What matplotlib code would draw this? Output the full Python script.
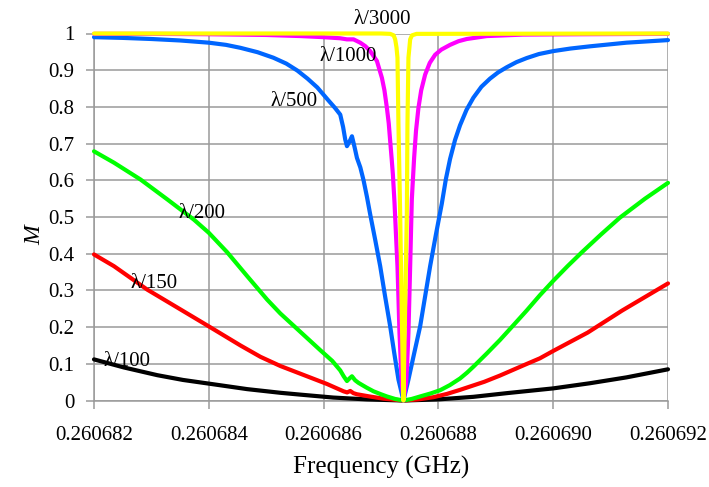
import numpy as np
import matplotlib
matplotlib.use("Agg")
import matplotlib.pyplot as plt

# ── data: frequency offsets from 0.260682 GHz, in kHz (1e-6 GHz) ────────────
F_START = 0.260682

U_100 = [0, 0.522, 1.103, 1.55, 2.0, 2.668, 3.247, 3.595, 4.169, 4.755, 5.391,
         6.0, 6.609, 7.19, 8.0, 8.638, 9.277, 10.0]
M_100 = [0.112, 0.090, 0.069, 0.056, 0.046, 0.031, 0.021, 0.016, 0.008, 0.003, 0.0,
         0.003, 0.010, 0.020, 0.033, 0.047, 0.063, 0.085]

U_150 = [0, 0.348, 0.929, 1.508, 2.0, 2.551, 2.9, 3.247, 3.595, 4.059, 4.348,
         4.41, 4.464, 4.52, 4.581, 4.8, 5.043, 5.391, 5.65, 5.913, 6.15, 6.377, 6.8,
         7.073, 7.5, 7.769, 8.0, 8.6, 9.2, 10.0]
M_150 = [0.398, 0.366, 0.302, 0.248, 0.202, 0.150, 0.119, 0.094, 0.073, 0.045, 0.025,
         0.022, 0.026, 0.020, 0.017, 0.011, 0.005, 0.0, 0.003, 0.009, 0.018, 0.029, 0.051,
         0.068, 0.097, 0.115, 0.135, 0.185, 0.245, 0.319]

U_200 = [0, 0.348, 0.812, 1.277, 1.739, 2.0, 2.32, 2.668, 3.016, 3.247,
         3.595, 3.943, 4.15, 4.29, 4.35, 4.407, 4.45, 4.494, 4.55, 4.609,
         4.75, 4.87, 5.0, 5.103, 5.25, 5.391, 5.53, 5.682, 5.86, 6.03, 6.2, 6.377,
         6.5, 6.609, 6.842, 7.073, 7.306, 7.537, 7.769, 8.0, 8.25, 8.5, 8.83,
         9.16, 9.6, 10.0]
M_200 = [0.679, 0.648, 0.602, 0.548, 0.493, 0.457, 0.404, 0.339, 0.275, 0.237,
         0.187, 0.137, 0.108, 0.082, 0.066, 0.053, 0.060, 0.066, 0.055, 0.048,
         0.035, 0.025, 0.017, 0.011, 0.004, 0.0, 0.004, 0.011, 0.019, 0.028, 0.042, 0.060,
         0.076, 0.092, 0.128, 0.165, 0.205, 0.245, 0.287, 0.326, 0.366, 0.404, 0.452,
         0.498, 0.550, 0.593]

U_500 = [0, 0.5, 1.0, 1.5, 2.0, 2.3, 2.55, 2.85, 3.125, 3.35, 3.543,
         3.72, 3.89, 4.082, 4.2, 4.29, 4.34, 4.377, 4.407, 4.45, 4.494,
         4.54, 4.581, 4.64, 4.696, 4.755, 4.812, 4.9, 4.986, 5.07, 5.16,
         5.23, 5.304, 5.391, 5.478, 5.58, 5.682, 5.77, 5.856, 5.96, 6.059,
         6.13, 6.203, 6.29, 6.377, 6.49, 6.609, 6.75, 6.899, 7.04, 7.19, 7.36,
         7.537, 7.75, 8.0, 8.3, 8.638, 9.277, 10.0]
M_500 = [0.990, 0.988, 0.985, 0.981, 0.975, 0.969, 0.961, 0.949, 0.934, 0.918, 0.899,
         0.877, 0.853, 0.818, 0.797, 0.779, 0.745, 0.711, 0.693, 0.705, 0.720,
         0.690, 0.661, 0.635, 0.600, 0.555, 0.507, 0.437, 0.366, 0.285, 0.202,
         0.130, 0.057, 0.0, 0.057, 0.130, 0.202, 0.285, 0.366, 0.455, 0.536,
         0.603, 0.658, 0.710, 0.750, 0.792, 0.825, 0.855, 0.877, 0.894, 0.908, 0.922,
         0.933, 0.944, 0.952, 0.959, 0.965, 0.975, 0.982]

U_1000 = [0, 1.0, 2.0, 3.0, 3.6, 4.0, 4.29, 4.407, 4.522, 4.638,
          4.73, 4.812, 4.929, 5.016, 5.06, 5.103, 5.135, 5.16, 5.185, 5.207,
          5.235, 5.26, 5.287, 5.305, 5.322, 5.343, 5.363, 5.391, 5.438, 5.458,
          5.478, 5.493, 5.508, 5.522, 5.537, 5.557, 5.577, 5.61, 5.652, 5.7,
          5.769, 5.85, 5.943, 6.05, 6.203, 6.35, 6.494, 6.842, 7.473, 8.5, 10.0]
M_1000 = [0.999, 0.999, 0.998, 0.996, 0.993, 0.990, 0.987, 0.984, 0.984, 0.975,
          0.965, 0.952, 0.925, 0.879, 0.845, 0.797, 0.755, 0.707, 0.660, 0.616,
          0.540, 0.455, 0.366, 0.275, 0.184, 0.110, 0.048, 0.0, 0.048, 0.110,
          0.184, 0.275, 0.366, 0.455, 0.548, 0.605, 0.661, 0.735, 0.797, 0.845,
          0.888, 0.920, 0.942, 0.956, 0.969, 0.979, 0.985, 0.993, 0.997, 0.998, 0.999]

U_3000 = [0, 5.0, 5.16, 5.22, 5.247, 5.27, 5.287, 5.304, 5.334, 5.36,
          5.391, 5.42, 5.45, 5.461, 5.478, 5.495, 5.508, 5.54, 5.62, 10.0]
M_3000 = [1.0, 1.0, 0.999, 0.995, 0.984, 0.962, 0.934, 0.752, 0.507, 0.25,
          0.0, 0.25, 0.507, 0.752, 0.934, 0.962, 0.984, 0.995, 0.999, 1.0]

SERIES = [
    ("λ/100", U_100, M_100, "#000000"),
    ("λ/150", U_150, M_150, "#FF0000"),
    ("λ/200", U_200, M_200, "#00FF00"),
    ("λ/500", U_500, M_500, "#0066FF"),
    ("λ/1000", U_1000, M_1000, "#FF00FF"),
    ("λ/3000", U_3000, M_3000, "#FFFF00"),
]

# label anchor points (offset kHz, M)
LABELS = {
    "λ/100": (0.57, 0.105),
    "λ/150": (1.04, 0.32),
    "λ/200": (1.88, 0.51),
    "λ/500": (3.49, 0.815),
    "λ/1000": (4.42, 0.936),
    "λ/3000": (5.02, 1.039),
}

X_TICKS = [0.260682, 0.260684, 0.260686, 0.260688, 0.260690, 0.260692]
Y_TICKS = [0, 0.1, 0.2, 0.3, 0.4, 0.5, 0.6, 0.7, 0.8, 0.9, 1]

# ── plot ──────────────────────────────────────────────────────────────────────
plt.rcParams["font.family"] = ["Liberation Serif", "DejaVu Serif"]
GRID = "#9a9a9a"

fig = plt.figure(figsize=(7.09, 4.87), dpi=100, facecolor="white")
ax = fig.add_axes([94 / 709, 1 - 400.5 / 487, (668 - 94) / 709, (400.5 - 33.5) / 487])

for name, u, m, col in SERIES:
    f = F_START + np.array(u) * 1e-6
    ax.plot(f, m, color=col, lw=3.0, solid_joinstyle="round", solid_capstyle="round",
            clip_on=False, zorder=3)

for name, (u, m) in LABELS.items():
    ax.text(F_START + u * 1e-6, m, name, fontsize=15, ha="center", va="center",
            color="black", zorder=4, clip_on=False)

ax.set_xlim(X_TICKS[0], X_TICKS[-1])
ax.set_ylim(0, 1)
ax.set_xticks(X_TICKS)
ax.set_xticklabels([f"{t:.6f}" for t in X_TICKS])
ax.set_yticks(Y_TICKS)
ax.set_yticklabels([f"{t:g}" for t in Y_TICKS])

ax.grid(True, color=GRID, lw=1.1, zorder=0)
ax.set_axisbelow(True)
for s in ("top", "right"):
    ax.spines[s].set_visible(False)
for s in ("left", "bottom"):
    ax.spines[s].set_color(GRID)
    ax.spines[s].set_linewidth(1.1)
ax.tick_params(axis="both", direction="out", length=6, width=1.1, color=GRID,
               labelsize=15, labelcolor="black")
ax.tick_params(axis="x", pad=12)
ax.tick_params(axis="y", pad=8)

fig.text(381 / 709, 1 - 467 / 487, "Frequency (GHz)", fontsize=18,
         ha="center", va="center")
fig.text(35 / 709, 1 - 235 / 487, "M", fontsize=17, style="italic",
         rotation=90, ha="center", va="center")

fig.savefig("out.png", dpi=100, facecolor="white")
